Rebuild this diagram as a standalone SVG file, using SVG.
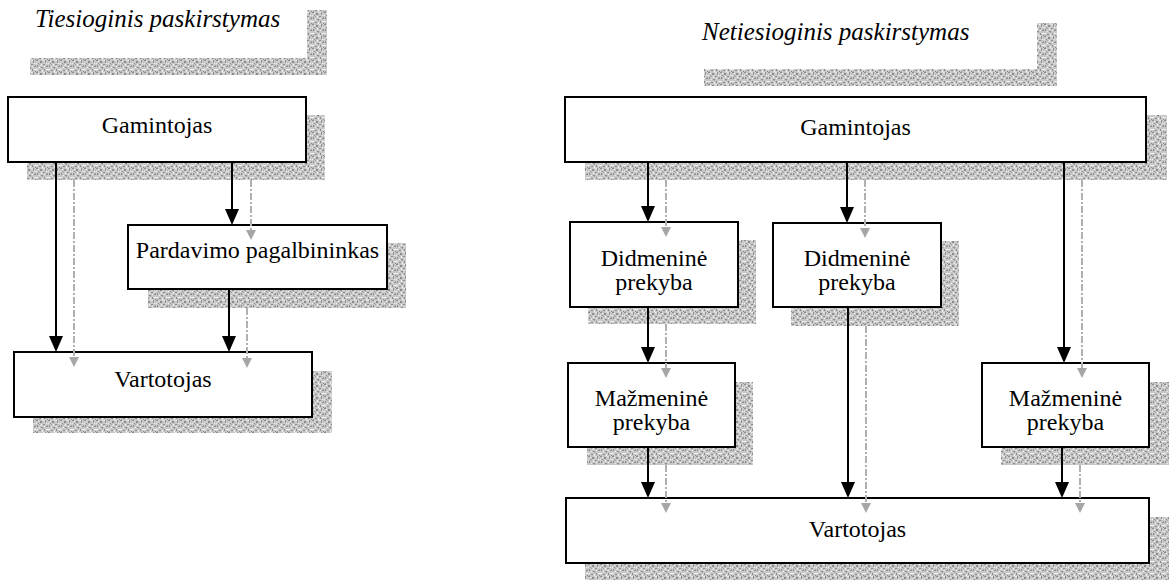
<svg xmlns="http://www.w3.org/2000/svg" width="1169" height="580" viewBox="0 0 1169 580">
<style>
.box{fill:#fff;stroke:#000;stroke-width:2}
.sh{fill:url(#speck)}
.lbl{font-family:"Liberation Serif","Times New Roman",serif;font-size:24px;fill:#000;text-anchor:middle}
.ttl{font-family:"Liberation Serif","Times New Roman",serif;font-size:25px;font-style:italic;fill:#000}
.arr{stroke:#000;stroke-width:2;fill:none;marker-end:url(#ah)}
.gar{stroke:#b0b0b0;stroke-width:2;stroke-dasharray:7 2 2 2;fill:none;marker-end:url(#gh)}
</style>
<defs>
<pattern id="speck" width="12" height="12" patternUnits="userSpaceOnUse">
<rect width="12" height="12" fill="#c8c8c8"/>
<path d="M0 0h2v1h-2z M4 1h2v2h-2z M9 0h1v2h-1z M7 4h2v1h-2z M1 5h1v2h-1z M5 7h2v1h-2z M10 6h2v1h-2z M3 10h2v1h-2z M8 9h1v2h-1z M11 11h1v1h-1z M2 3h1v1h-1z" fill="#8c8c8c"/>
<path d="M2 1h1v1h-1z M7 0h2v1h-2z M0 3h1v1h-1z M5 4h1v2h-1z M10 3h1v1h-1z M3 7h1v1h-1z M8 6h1v1h-1z M0 9h2v1h-2z M6 10h1v2h-1z M10 9h2v1h-2z" fill="#f0f0f0"/>
<path d="M3 4h1v1h-1z M9 2h1v1h-1z M6 8h1v1h-1z M1 11h1v1h-1z M11 5h1v1h-1z" fill="#a4a4a4"/>
</pattern>
<marker id="ah" markerUnits="userSpaceOnUse" markerWidth="16" markerHeight="14" viewBox="0 0 16 14" refX="12" refY="7" orient="auto">
<path d="M0 0L16 7L0 14Z" fill="#000"/>
</marker>
<marker id="gh" markerUnits="userSpaceOnUse" markerWidth="10" markerHeight="10" viewBox="0 0 10 10" refX="7" refY="5" orient="auto">
<path d="M0 0L10 5L0 10Z" fill="#a6a6a6"/>
</marker>
</defs>
<rect width="1169" height="580" fill="#fff"/>

<g id="title-left">
<path class="sh" d="M307 10H327V75H30V58H307Z"/>
<text class="ttl" x="35" y="27">Tiesioginis paskirstymas</text>
</g>
<g id="title-right">
<path class="sh" d="M1037 23H1057V86H704V69H1037Z"/>
<text class="ttl" x="702" y="40">Netiesioginis paskirstymas</text>
</g>

<g id="gamintojas-left">
<rect class="sh" x="27" y="115" width="298" height="65"/>
<rect class="box" x="8" y="97" width="298" height="65"/>
<text class="lbl" x="157" y="133">Gamintojas</text>
</g>
<g id="pardavimo-pagalbininkas">
<rect class="sh" x="148" y="243" width="258" height="65"/>
<rect class="box" x="128" y="225" width="259" height="64"/>
<text class="lbl" x="257.5" y="258">Pardavimo pagalbininkas</text>
</g>
<g id="vartotojas-left">
<rect class="sh" x="33" y="371" width="299" height="62"/>
<rect class="box" x="14" y="352" width="298" height="65"/>
<text class="lbl" x="163" y="387">Vartotojas</text>
</g>

<g id="gamintojas-right">
<rect class="sh" x="585" y="115" width="582" height="65"/>
<rect class="box" x="565" y="97" width="581" height="65"/>
<text class="lbl" x="855.5" y="135">Gamintojas</text>
</g>
<g id="didmenine-1">
<rect class="sh" x="588" y="240" width="168" height="84"/>
<rect class="box" x="570" y="222" width="168" height="85"/>
<text class="lbl" x="654" y="266">Didmeninė</text>
<text class="lbl" x="654" y="290">prekyba</text>
</g>
<g id="didmenine-2">
<rect class="sh" x="791" y="241" width="168" height="85"/>
<rect class="box" x="773" y="223" width="168" height="84"/>
<text class="lbl" x="857" y="266">Didmeninė</text>
<text class="lbl" x="857" y="290">prekyba</text>
</g>
<g id="mazmenine-1">
<rect class="sh" x="587" y="382" width="166" height="83"/>
<rect class="box" x="568" y="363" width="167" height="84"/>
<text class="lbl" x="651.5" y="406">Mažmeninė</text>
<text class="lbl" x="651.5" y="430">prekyba</text>
</g>
<g id="mazmenine-2">
<rect class="sh" x="1001" y="382" width="168" height="83"/>
<rect class="box" x="982" y="363" width="167" height="84"/>
<text class="lbl" x="1065.5" y="406">Mažmeninė</text>
<text class="lbl" x="1065.5" y="430">prekyba</text>
</g>
<g id="vartotojas-right">
<rect class="sh" x="585" y="517" width="584" height="63"/>
<rect class="box" x="566" y="498" width="583" height="65"/>
<text class="lbl" x="857.5" y="537">Vartotojas</text>
</g>

<g id="connectors">
<path class="arr" d="M56 162V348"/>
<path class="gar" d="M74 180V364"/>
<path class="arr" d="M232 162V221"/>
<path class="gar" d="M251 180V237"/>
<path class="arr" d="M229 289V348"/>
<path class="gar" d="M247 308V365"/>

<path class="arr" d="M648 162V218"/>
<path class="gar" d="M666 180V234"/>
<path class="arr" d="M847 162V219"/>
<path class="gar" d="M865 180V235"/>
<path class="arr" d="M1064 162V359"/>
<path class="gar" d="M1082 180V375"/>
<path class="arr" d="M648 307V359"/>
<path class="gar" d="M666 324V375"/>
<path class="arr" d="M848 307V494"/>
<path class="gar" d="M866 326V510"/>
<path class="arr" d="M648 447V494"/>
<path class="gar" d="M666 465V510"/>
<path class="arr" d="M1062 447V494"/>
<path class="gar" d="M1080 465V510"/>
</g>
</svg>
